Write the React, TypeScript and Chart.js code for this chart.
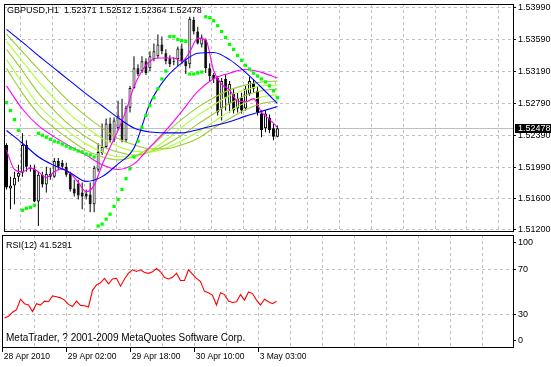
import React, { useEffect, useRef } from 'react';
import { Chart, registerables } from 'chart.js';

Chart.register(...registerables);

// ---------- data ----------
const BARS = [0,1,2,3,4,5,6,7,8,9,10,11,12,13,14,15,16,17,18,19,20,21,22,23,24,25,26,27,28,29,30,31,32,33,34,35,36,37,38,39,40,41,42,43,44,45,46,47,48,49,50,51,52,53,54,55,56,57,58,59,60,61,62,63,64,65,66,67,68];

const OPEN = [1.52266,1.51720,1.51758,1.51869,1.51919,1.52266,1.51981,1.51969,1.51559,1.51894,1.51770,1.51906,1.51869,1.52068,1.52043,1.51993,1.51906,1.51720,1.51782,1.51671,1.51658,1.51646,1.51522,1.51956,1.52167,1.52241,1.52539,1.52328,1.52477,1.52576,1.52328,1.52737,1.52985,1.53233,1.53196,1.53320,1.53233,1.53345,1.53382,1.53531,1.53419,1.53357,1.53320,1.53345,1.53481,1.53320,1.53283,1.53841,1.53692,1.53531,1.53593,1.53233,1.53146,1.53109,1.52725,1.53097,1.52787,1.52911,1.52725,1.52861,1.52725,1.52911,1.53047,1.52948,1.52663,1.52477,1.52613,1.52477,1.52371];
const HIGH = [1.52291,1.51869,1.51931,1.52018,1.52415,1.52328,1.52018,1.52018,1.51931,1.51931,1.51993,1.51981,1.52105,1.52105,1.52080,1.52043,1.51931,1.51832,1.51832,1.51795,1.51708,1.51795,1.52006,1.52291,1.52539,1.52601,1.52613,1.52613,1.52824,1.52849,1.52762,1.53010,1.53382,1.53283,1.53382,1.53357,1.53444,1.53543,1.53655,1.53630,1.53469,1.53394,1.53370,1.53506,1.53543,1.53357,1.53878,1.53878,1.53754,1.53655,1.53605,1.53295,1.53171,1.53134,1.53109,1.53159,1.53072,1.52973,1.52923,1.52923,1.53010,1.53122,1.53097,1.53010,1.52700,1.52700,1.52650,1.52539,1.52512];
const LOW = [1.51708,1.51460,1.51522,1.51807,1.51869,1.51931,1.51931,1.51547,1.51249,1.51733,1.51671,1.51832,1.51857,1.51956,1.51956,1.51869,1.51683,1.51621,1.51584,1.51460,1.51584,1.51423,1.51423,1.51931,1.52142,1.52229,1.52303,1.52303,1.52452,1.52303,1.52303,1.52675,1.52973,1.53134,1.53171,1.53146,1.53196,1.53320,1.53357,1.53407,1.53283,1.53246,1.53270,1.53258,1.53283,1.53159,1.53233,1.53655,1.53531,1.53494,1.53171,1.53072,1.53047,1.52638,1.52576,1.52700,1.52675,1.52663,1.52675,1.52663,1.52700,1.52886,1.52923,1.52638,1.52365,1.52427,1.52415,1.52328,1.52364];
const CLOSE = [1.51733,1.51758,1.51857,1.51919,1.52266,1.51993,1.51969,1.51559,1.51894,1.51770,1.51906,1.51869,1.52068,1.51993,1.51993,1.51894,1.51708,1.51658,1.51634,1.51621,1.51621,1.51522,1.51981,1.52179,1.52241,1.52539,1.52328,1.52576,1.52638,1.52328,1.52737,1.52985,1.53233,1.53159,1.53320,1.53171,1.53382,1.53444,1.53531,1.53444,1.53320,1.53283,1.53308,1.53481,1.53320,1.53258,1.53853,1.53692,1.53543,1.53618,1.53233,1.53134,1.53097,1.52675,1.53072,1.52861,1.53035,1.52700,1.52849,1.52700,1.52973,1.53072,1.52973,1.52675,1.52452,1.52663,1.52452,1.52370,1.52478];

const SAR = [1.52799,1.52700,1.52588,1.52452,1.51448,1.51472,1.51485,1.51510,1.52415,1.52390,1.52365,1.52340,1.52316,1.52303,1.52278,1.52254,1.52229,1.52216,1.52192,1.52179,1.52154,1.52142,1.52117,1.51249,1.51274,1.51336,1.51398,1.51497,1.51584,1.51708,1.51844,1.51969,1.52117,1.52316,1.52489,1.52638,1.52762,1.52861,1.52973,1.53097,1.53196,1.53630,1.53630,1.53593,1.53580,1.53568,1.53159,1.53159,1.53171,1.53184,1.53878,1.53866,1.53828,1.53766,1.53692,1.53618,1.53531,1.53469,1.53394,1.53332,1.53270,1.53221,1.53171,1.53134,1.53097,1.53060,1.53010,1.52948,1.52861];

const RSI = [26.5,28.0,31.7,34.0,43.3,39.3,38.1,32.3,39.3,38.1,41.6,41.0,46.2,45.4,44.5,42.5,38.7,36.7,41.6,37.8,37.5,36.4,51.2,56.1,57.9,61.9,57.0,61.3,61.9,54.9,61.3,66.5,69.5,68.0,69.5,67.1,66.3,67.7,70.6,67.7,62.5,61.3,62.8,66.5,59.9,59.9,69.5,65.7,61.9,59.0,50.3,49.1,46.8,38.1,49.1,47.4,41.6,40.4,41.0,47.4,42.5,49.7,48.3,42.5,38.1,43.3,41.0,39.3,41.5291];

// indicator lines sampled every 4 bars
const LINE_X = [0,4,8,12,16,20,24,28,32,36,40,44,48,52,56,60,64,68];
const BLUE_FAST = [1.5245,1.5229,1.5212,1.5201,1.5192,1.5181,1.5187,1.5203,1.5223,1.5279,1.5311,1.5330,1.5342,1.5343,1.5334,1.5318,1.5299,1.5279];
const BLUE_SLOW = [1.5372,1.5356,1.5339,1.5323,1.5307,1.5291,1.5276,1.5261,1.5248,1.5243,1.5242,1.5242,1.5246,1.5251,1.5256,1.5263,1.5269,1.5275];
const MAGENTA_SLOW = [1.5301,1.5272,1.5251,1.5237,1.5225,1.5214,1.5202,1.5196,1.5203,1.5224,1.5245,1.5269,1.5294,1.5310,1.5317,1.5322,1.5318,1.5311];
const LIME_1 = [1.5366,1.5344,1.5322,1.5300,1.5280,1.5263,1.5248,1.5235,1.5227,1.5222,1.5222,1.5227,1.5235,1.5248,1.5260,1.5271,1.5279,1.5282];
const LIME_2 = [1.5357,1.5332,1.5307,1.5285,1.5265,1.5249,1.5235,1.5225,1.5219,1.5218,1.5223,1.5232,1.5243,1.5256,1.5269,1.5280,1.5287,1.5290];
const LIME_3 = [1.5347,1.5320,1.5292,1.5270,1.5251,1.5237,1.5225,1.5218,1.5214,1.5218,1.5227,1.5239,1.5253,1.5266,1.5279,1.5289,1.5295,1.5297];
const LIME_4 = [1.5334,1.5305,1.5277,1.5258,1.5242,1.5228,1.5218,1.5212,1.5212,1.5219,1.5233,1.5249,1.5264,1.5277,1.5289,1.5296,1.5301,1.5302];
const LIME_5 = [1.5323,1.5292,1.5266,1.5248,1.5233,1.5220,1.5212,1.5208,1.5212,1.5224,1.5242,1.5259,1.5274,1.5286,1.5296,1.5302,1.5306,1.5307];

// fast magenta line sampled every 2 bars
const MAGENTA_FAST_X = [0,2,4,6,8,10,12,14,16,18,20,22,24,26,28,30,32,34,36,38,40,42,44,46,48,50,52,54,56,58,60,62,64,66,68];
const MAGENTA_FAST = [1.5220,1.5196,1.5193,1.5198,1.5193,1.5186,1.5193,1.5197,1.5191,1.5180,1.5168,1.5176,1.5202,1.5224,1.5245,1.5270,1.5300,1.5320,1.5332,1.5336,1.5336,1.5336,1.5332,1.5344,1.5361,1.5359,1.5320,1.5303,1.5296,1.5282,1.5281,1.5285,1.5268,1.5259,1.5249];

const PRICE_TICKS = [1.5399, 1.5359, 1.5319, 1.5279, 1.5239, 1.5199, 1.516, 1.512];
const RSI_LEVELS = [0, 30, 70, 100];
const GRID_BARS = [0,8,16,24,32,40,48,56,64,72,80,88,96,104,112,120];
const TIME_LABEL_BARS = [0, 16, 32, 48, 64];
const TIME_LABELS = ['28 Apr 2010', '29 Apr 02:00', '29 Apr 18:00', '30 Apr 10:00', '3 May 03:00'];

// ---------- styling / layout ----------
const FONT = '"Liberation Sans", Arial, sans-serif';
const GRID = '#C0C0C0';
const X_MIN = -0.625;
const X_MAX = 127.125;
const P_MIN = 1.51187;
const P_MAX = 1.54039;
const RSI_MIN = 0.7;
const RSI_MAX = 100.5;
const RSI_LABEL_POS = [6.2, 30, 70, 93.8];
const GRID_SHIFT = -0.45;
const LAST = BARS.length - 1;

const framePlugin = {
  id: 'frame',
  afterDatasetsDraw(chart: any) {
    const { ctx, chartArea: a } = chart;
    ctx.save();
    ctx.strokeStyle = '#000';
    ctx.lineWidth = 1;
    ctx.strokeRect(a.left + 0.5, a.top + 0.5, a.right - a.left, a.bottom - a.top);
    ctx.restore();
  },
};

const pricePlugin = {
  id: 'priceTag',
  beforeDatasetsDraw(chart: any) {
    const { ctx, chartArea: a, scales } = chart;
    const y = Math.round(scales.y.getPixelForValue(CLOSE[LAST])) + 0.5;
    ctx.save();
    ctx.strokeStyle = GRID;
    ctx.lineWidth = 1;
    ctx.beginPath();
    ctx.moveTo(a.left, y);
    ctx.lineTo(a.right, y);
    ctx.stroke();
    ctx.restore();
  },
  afterDraw(chart: any) {
    const { ctx, chartArea: a, scales } = chart;
    const y = Math.round(scales.y.getPixelForValue(CLOSE[LAST]));
    ctx.save();
    ctx.fillStyle = '#000';
    ctx.fillRect(a.right + 2, y - 4, 40, 9);
    ctx.fillStyle = '#fff';
    ctx.font = '9px ' + FONT;
    ctx.textBaseline = 'middle';
    ctx.fillText(CLOSE[LAST].toFixed(5), a.right + 5, y + 0.5);
    ctx.restore();
  },
};

function lineDs(xs: number[], ys: number[], color: string) {
  return {
    type: 'line',
    data: xs.map((x, i) => ({ x, y: ys[i] })),
    borderColor: color,
    borderWidth: 1.1,
    pointRadius: 0,
    cubicInterpolationMode: 'monotone',
    order: 1,
  };
}

function mainConfig(): any {
  return {
    type: 'bar',
    data: {
      datasets: [
        {
          type: 'line',
          data: BARS.map((b, i) => ({ x: b, y: SAR[i] })),
          showLine: false,
          pointStyle: 'rect',
          pointRadius: 2.3,
          pointBackgroundColor: '#00FF00',
          pointBorderWidth: 0,
          order: 0,
        },
        lineDs(LINE_X, BLUE_SLOW, '#0000FF'),
        lineDs(LINE_X, BLUE_FAST, '#0000FF'),
        lineDs(MAGENTA_FAST_X, MAGENTA_FAST, '#FF00FF'),
        lineDs(LINE_X, MAGENTA_SLOW, '#FF00FF'),
        lineDs(LINE_X, LIME_1, '#9ACD32'),
        lineDs(LINE_X, LIME_2, '#ADFF2F'),
        lineDs(LINE_X, LIME_3, '#9ACD32'),
        lineDs(LINE_X, LIME_4, '#ADFF2F'),
        lineDs(LINE_X, LIME_5, '#9ACD32'),
        {
          type: 'bar',
          data: BARS.map((b, i) => ({ x: b, y: [OPEN[i], CLOSE[i]] })),
          backgroundColor: BARS.map((_, i) => (CLOSE[i] >= OPEN[i] ? '#FFFFFF' : '#000000')),
          borderColor: '#000000',
          borderWidth: 1,
          borderSkipped: false,
          barThickness: 3,
          inflateAmount: 0,
          grouped: false,
          order: 2,
        },
        {
          type: 'bar',
          data: BARS.map((b, i) => ({ x: b, y: [LOW[i], HIGH[i]] })),
          backgroundColor: '#000000',
          borderWidth: 0,
          barThickness: 1,
          inflateAmount: 0,
          grouped: false,
          order: 3,
        },
      ],
    },
    options: {
      animation: false,
      responsive: false,
      devicePixelRatio: 1,
      events: [],
      layout: { padding: { left: 2, top: 2, right: 0, bottom: 3 } },
      plugins: { legend: { display: false }, tooltip: { enabled: false } },
      scales: {
        x: {
          type: 'linear',
          min: X_MIN,
          max: X_MAX,
          offset: false,
          afterBuildTicks: (s: any) => {
            s.ticks = GRID_BARS.map((v) => ({ value: v + GRID_SHIFT }));
          },
          afterFit: (s: any) => {
            s.height = 0;
            s.paddingLeft = 0;
            s.paddingRight = 0;
          },
          ticks: { display: false },
          grid: {
            color: (c: any) => (c.index === 0 ? 'transparent' : GRID),
            drawTicks: false,
            lineWidth: 1,
          },
          border: { display: false, dash: [3, 3] },
        },
        y: {
          type: 'linear',
          position: 'right',
          min: P_MIN,
          max: P_MAX,
          afterBuildTicks: (s: any) => {
            s.ticks = PRICE_TICKS.map((v) => ({ value: v }));
          },
          afterFit: (s: any) => {
            s.width = 38;
            s.paddingTop = 0;
            s.paddingBottom = 0;
          },
          ticks: {
            autoSkip: false,
            callback: (v: any) => Number(v).toFixed(5),
            color: '#000',
            font: { family: FONT, size: 9 },
            padding: 2,
          },
          grid: { color: GRID, tickColor: '#000', tickLength: 3, lineWidth: 1 },
          border: { display: false, dash: [3, 3] },
        },
      },
    },
    plugins: [pricePlugin, framePlugin],
  };
}

function rsiConfig(): any {
  return {
    type: 'line',
    data: {
      datasets: [
        {
          data: BARS.map((b, i) => ({ x: b, y: RSI[i] })),
          borderColor: '#FF0000',
          borderWidth: 1.1,
          pointRadius: 0,
          tension: 0,
        },
      ],
    },
    options: {
      animation: false,
      responsive: false,
      devicePixelRatio: 1,
      events: [],
      layout: { padding: { left: 2, top: 2, right: 0, bottom: 0 } },
      plugins: { legend: { display: false }, tooltip: { enabled: false } },
      scales: {
        x: {
          type: 'linear',
          min: X_MIN,
          max: X_MAX,
          offset: false,
          afterBuildTicks: (s: any) => {
            s.ticks = GRID_BARS.map((v) => ({ value: v + GRID_SHIFT }));
          },
          afterFit: (s: any) => {
            s.height = 20;
            s.paddingLeft = 0;
            s.paddingRight = 0;
          },
          ticks: {
            autoSkip: false,
            maxRotation: 0,
            minRotation: 0,
            align: 'start',
            labelOffset: 1,
            padding: 0,
            color: '#000',
            font: { family: FONT, size: 8.5 },
            callback: (_v: any, i: number) => {
              const k = TIME_LABEL_BARS.indexOf(GRID_BARS[i]);
              return k >= 0 ? TIME_LABELS[k] : '';
            },
          },
          grid: {
            color: (c: any) => (c.index === 0 ? 'transparent' : GRID),
            tickColor: (c: any) => (TIME_LABEL_BARS.indexOf(GRID_BARS[c.index]) >= 0 ? '#000' : 'transparent'),
            tickLength: 5,
            lineWidth: 1,
          },
          border: { display: false, dash: [3, 3] },
        },
        y: {
          type: 'linear',
          position: 'right',
          min: RSI_MIN,
          max: RSI_MAX,
          afterBuildTicks: (s: any) => {
            s.ticks = RSI_LABEL_POS.map((v) => ({ value: v }));
          },
          afterFit: (s: any) => {
            s.width = 38;
            s.paddingTop = 0;
            s.paddingBottom = 0;
          },
          ticks: {
            autoSkip: false,
            callback: (_v: any, i: number) => String(RSI_LEVELS[i]),
            color: '#000',
            font: { family: FONT, size: 9 },
            padding: 2,
          },
          grid: {
            color: (c: any) => {
              const lvl = RSI_LEVELS[c.index];
              return lvl === 30 || lvl === 70 ? GRID : 'transparent';
            },
            tickColor: '#000',
            tickLength: 3,
            lineWidth: 1,
          },
          border: { display: false, dash: [3, 3] },
        },
      },
    },
    plugins: [framePlugin],
  };
}

const textStyle = (left: number, top: number, size = 9): React.CSSProperties => ({
  position: 'absolute',
  left,
  top,
  font: `${size}px ${FONT}`,
  lineHeight: `${size}px`,
  color: '#000',
  whiteSpace: 'pre',
});

export default function App() {
  const mainRef = useRef<HTMLCanvasElement>(null);
  const rsiRef = useRef<HTMLCanvasElement>(null);

  useEffect(() => {
    const main = new Chart(mainRef.current as HTMLCanvasElement, mainConfig());
    const rsi = new Chart(rsiRef.current as HTMLCanvasElement, rsiConfig());
    return () => {
      main.destroy();
      rsi.destroy();
    };
  }, []);

  const title = `GBPUSD,H1  ${OPEN[LAST].toFixed(5)} ${HIGH[LAST].toFixed(5)} ${LOW[LAST].toFixed(5)} ${CLOSE[LAST].toFixed(5)}`;

  return (
    <div style={{ position: 'absolute', left: 0, top: 0, width: 551, height: 367, background: '#fff', overflow: 'hidden' }}>
      <canvas ref={mainRef} width={551} height={235} style={{ position: 'absolute', left: 0, top: 0 }} />
      <canvas ref={rsiRef} width={551} height={134} style={{ position: 'absolute', left: 0, top: 233 }} />
      <div style={textStyle(7, 6)}>{title}</div>
      <div style={textStyle(6, 241)}>{`RSI(12) ${RSI[LAST].toFixed(4)}`}</div>
      <div style={textStyle(6, 333, 10)}>MetaTrader, ? 2001-2009 MetaQuotes Software Corp.</div>
    </div>
  );
}
